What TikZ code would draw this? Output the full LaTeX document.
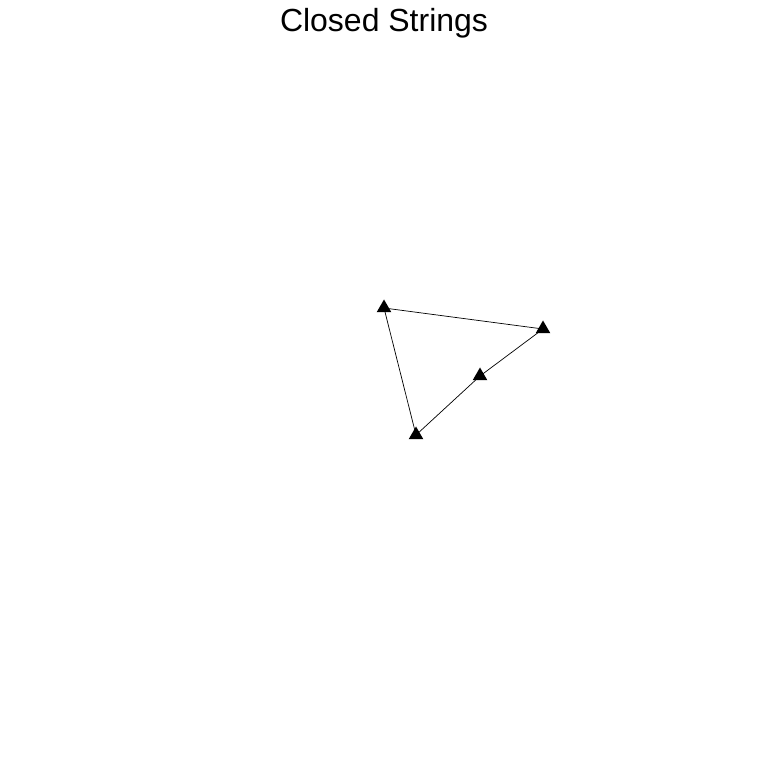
\documentclass[tikz,border=0pt]{standalone}
\usepackage{fontspec}
\setmainfont{Liberation Sans}
\usepackage{tikz}
\usetikzlibrary{shapes.geometric}
\tikzset{vertexmark/.style={regular polygon, regular polygon sides=3, fill=black, inner sep=0pt, minimum size=0.34cm}}

\begin{document}
\begin{tikzpicture}
				\useasboundingbox (0,0) rectangle (15.36,15.36);
				\node[font=\fontsize{18.2pt}{20pt}\selectfont, anchor=base] (title) at (7.68,14.72) {Closed Strings};
				\draw[line width=0.4pt] (7.68,9.20) coordinate (a) -- (10.86,8.78) coordinate (b) -- (9.60,7.84) coordinate (c) -- (8.32,6.66) coordinate (d) -- cycle;
				\node[vertexmark] (ma) at (a) {};
				\node[vertexmark] (mb) at (b) {};
				\node[vertexmark] (mc) at (c) {};
				\node[vertexmark] (md) at (d) {};
			\end{tikzpicture}
\end{document}
